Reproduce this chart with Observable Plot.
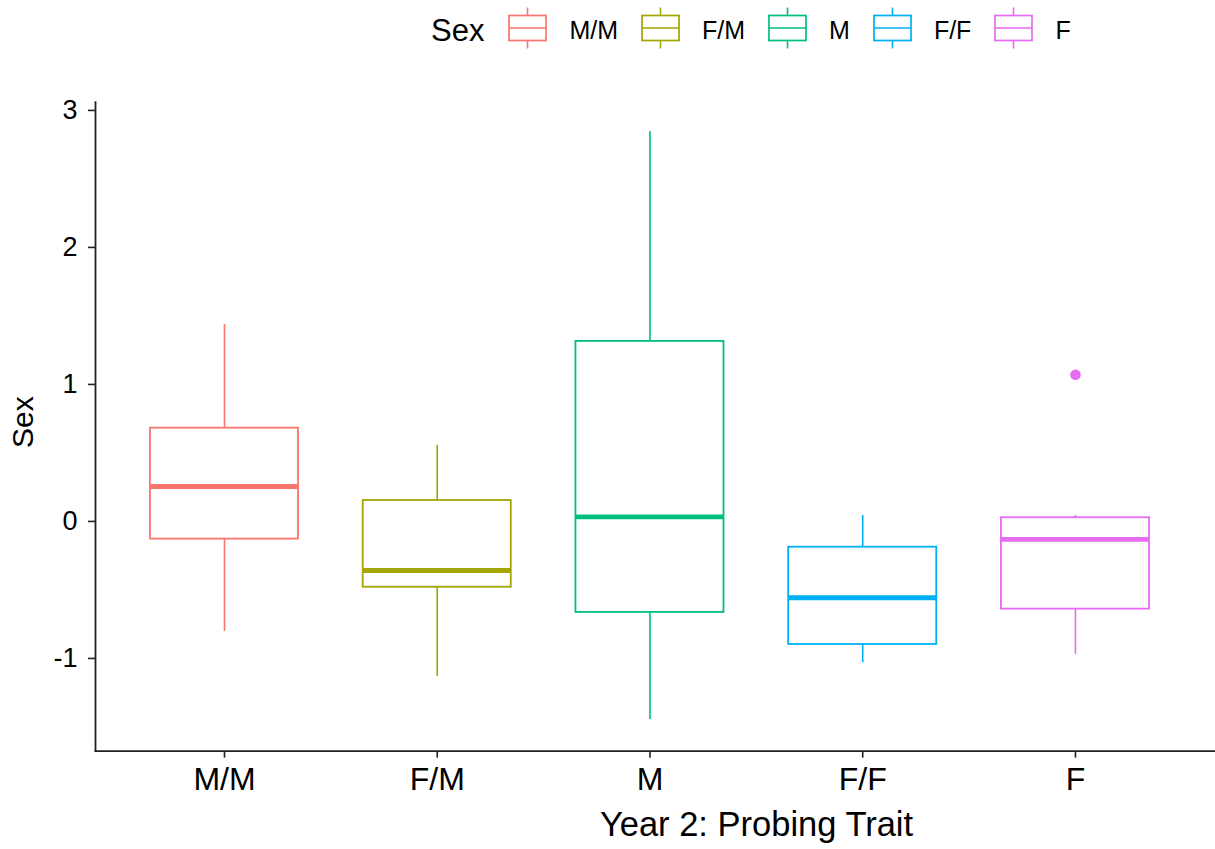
<!DOCTYPE html>
<html>
<head>
<meta charset="utf-8">
<script src="https://cdn.jsdelivr.net/npm/d3@7"></script>
<script src="https://cdn.jsdelivr.net/npm/@observablehq/plot@0.6"></script>
<style>
  html, body { margin: 0; padding: 0; background: #fff; }
  #wrap { position: relative; width: 1215px; height: 849px; font-family: "Liberation Sans", Arial, sans-serif; }
  #legend { position: absolute; left: 431px; top: 7px; height: 42px; display: flex; align-items: center; color: #000; }
  #legend .title { font-size: 31px; margin-right: 24px; position: relative; top: 3px; }
  #legend .lab { font-size: 25px; margin-left: 22px; margin-right: 23px; position: relative; top: 2px; }
  #legend svg { display: block; }
</style>
</head>
<body>
<div id="wrap">
  <div id="chart"></div>
  <div id="legend"></div>
</div>
<script>
const cats = ["M/M", "F/M", "M", "F/F", "F"];
const colors = ["#F8766D", "#A3A500", "#00BF7D", "#00B0F6", "#E76BF3"];
const lowerWhisker = [-0.803, -1.131, -1.445, -1.031, -0.971];
const q1 = [-0.129, -0.480, -0.664, -0.898, -0.640];
const median = [0.255, -0.358, 0.033, -0.557, -0.131];
const q3 = [0.681, 0.153, 1.314, -0.188, 0.027];
const upperWhisker = [1.438, 0.555, 2.847, 0.044, 0.044];
const outlierCats = ["F"];
const outlierValues = [1.071];
const yTicks = [-1, 0, 1, 2, 3];
const xTitle = "Year 2: Probing Trait";
const yTitle = "Sex";
const legendTitle = "Sex";

const boxes = cats.map((c, i) => ({
  cat: c, lo: lowerWhisker[i], q1: q1[i], med: median[i], q3: q3[i], hi: upperWhisker[i]
}));
const outliers = outlierCats.map((c, i) => ({cat: c, value: outlierValues[i]}));

const font = "Liberation Sans, Arial, sans-serif";
const axisColor = "#222";

const chart = Plot.plot({
  width: 1215,
  height: 849,
  marginLeft: 95,
  marginRight: 0,
  marginTop: 101.7,
  marginBottom: 98.3,
  style: {fontFamily: font, background: "white", color: "#000", overflow: "visible"},
  x: {type: "band", domain: cats, range: [96.35, 1202.6], paddingInner: 0.304, paddingOuter: 0.252, round: false, axis: null},
  y: {domain: [-1.677, 3.06], axis: null},
  color: {domain: cats, range: colors},
  marks: [
    Plot.ruleX(boxes, {x: "cat", y1: "lo", y2: "hi", stroke: "cat", strokeWidth: 1.6}),
    Plot.barY(boxes, {x: "cat", y1: "q1", y2: "q3", fill: "white", stroke: "cat", strokeWidth: 1.8}),
    Plot.tickY(boxes, {x: "cat", y: "med", stroke: "cat", strokeWidth: 4.8}),
    Plot.dot(outliers, {x: "cat", y: "value", fill: "cat", r: 5.3}),
    Plot.frame({anchor: "left", stroke: axisColor, strokeWidth: 1.8}),
    Plot.frame({anchor: "bottom", stroke: axisColor, strokeWidth: 1.8}),
    Plot.axisY(yTicks, {tickSize: 7, tickPadding: 11, fontSize: 27, stroke: axisColor, strokeWidth: 1.6, fill: "#000", label: null, tickFormat: d => String(d)}),
    Plot.axisX(cats, {tickSize: 7, tickPadding: 9, fontSize: 32, stroke: axisColor, strokeWidth: 1.6, fill: "#000", label: null}),
    Plot.text([xTitle], {frameAnchor: "bottom", dx: 101, dy: 74, fontSize: 34.5, fill: "#000", lineAnchor: "middle"}),
    Plot.text([yTitle], {frameAnchor: "left", dx: -72.5, dy: -4.5, rotate: -90, fontSize: 30, fill: "#000", lineAnchor: "middle", textAnchor: "middle"})
  ]
});
document.getElementById("chart").appendChild(chart);

// Legend (HTML)
const legend = d3.select("#legend");
legend.append("span").attr("class", "title").text(legendTitle);
cats.forEach((c, i) => {
  const svg = legend.append("svg").attr("width", 39).attr("height", 42);
  svg.append("line").attr("x1", 19.5).attr("x2", 19.5).attr("y1", 0.5).attr("y2", 41.5)
    .attr("stroke", colors[i]).attr("stroke-width", 1.6);
  svg.append("rect").attr("x", 1).attr("y", 8.5).attr("width", 37).attr("height", 25)
    .attr("fill", "white").attr("stroke", colors[i]).attr("stroke-width", 1.7);
  svg.append("line").attr("x1", 1).attr("x2", 38).attr("y1", 21).attr("y2", 21)
    .attr("stroke", colors[i]).attr("stroke-width", 1.7);
  legend.append("span").attr("class", "lab").text(c);
});
</script>
</body>
</html>
